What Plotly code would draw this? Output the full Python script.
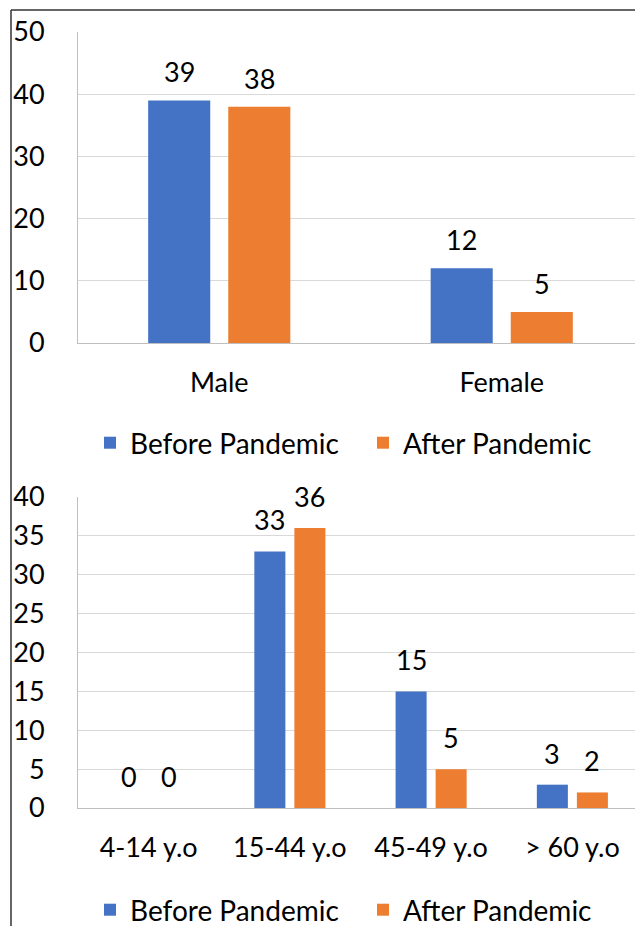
import plotly.graph_objects as go

# The page body has an 8px margin, so the figure is sized to fill the rest
OFF = 8
W, H = 643 - OFF, 926 - OFF

def px(x):
    return (x - OFF) / W

def py(y):
    return 1 - (y - OFF) / H

# ---- data ----
sex_categories = ["Male", "Female"]
sex_before = [39, 12]
sex_after = [38, 5]

age_categories = ["4-14 y.o", "15-44 y.o", "45-49 y.o", "> 60 y.o"]
age_before = [0, 33, 15, 3]
age_after = [0, 36, 5, 2]

series_names = ["Before Pandemic", "After Pandemic"]
colors = ["#4472C4", "#ED7D31"]

FONT = "Lato"
FS = 27
BARGAP = 0.433
GROUPGAP = 0.225

fig = go.Figure()

def add_group(cats, before, after, xa, ya, legend, yshift):
    for name, vals, col in zip(series_names, [before, after], colors):
        fig.add_trace(go.Bar(
            x=cats, y=vals, name=name, marker_color=col,
            marker_line_width=0, xaxis=xa, yaxis=ya, legend=legend,
            hoverinfo="skip"))
    slot = (1 - BARGAP) / 2
    for k, vals in enumerate([before, after]):
        off = (k - 0.5) * slot
        for i, v in enumerate(vals):
            fig.add_annotation(
                x=i + off, y=v, xref=xa, yref=ya, text=str(v),
                showarrow=False, yanchor="bottom", yshift=yshift,
                font=dict(family=FONT, size=FS, color="#000"))

add_group(sex_categories, sex_before, sex_after, "x", "y", "legend", 10)
add_group(age_categories, age_before, age_after, "x2", "y2", "legend2", 13)

xdom = [px(78), 1.0]
top_dom = [py(343), py(32)]
bot_dom = [py(808), py(497)]

axis_font = dict(family=FONT, size=FS, color="#000")
grid = "#d9d9d9"
line = "#bfbfbf"

def xaxis(dom, anchor):
    return dict(domain=dom, anchor=anchor, type="category",
                showline=True, linecolor=line, linewidth=1,
                showgrid=False, ticks="", tickfont=axis_font,
                ticklabelstandoff=16, fixedrange=True, automargin=False)

def yaxis(dom, anchor, rng, dt):
    return dict(domain=dom, anchor=anchor, range=rng, dtick=dt,
                showline=True, linecolor=line, linewidth=1,
                showgrid=True, gridcolor=grid, gridwidth=1,
                zeroline=False, ticks="", tickfont=axis_font,
                ticklabelstandoff=27, fixedrange=True, automargin=False)

legend_common = dict(orientation="h", xanchor="left", yanchor="middle",
                     font=dict(family=FONT, size=28, color="#000"),
                     bgcolor="rgba(0,0,0,0)", traceorder="normal",
                     entrywidth=228)

fig.update_layout(
    width=W, height=H, autosize=False,
    margin=dict(l=0, r=0, t=0, b=0, pad=0, autoexpand=False),
    paper_bgcolor="white", plot_bgcolor="white",
    barmode="group", bargap=BARGAP, bargroupgap=GROUPGAP,
    xaxis=xaxis(xdom, "y"),
    yaxis=yaxis(top_dom, "x", [0, 50], 10),
    xaxis2=xaxis(xdom, "y2"),
    yaxis2=yaxis(bot_dom, "x2", [0, 40], 5),
    legend=dict(x=px(90), y=py(443), **legend_common),
    legend2=dict(x=px(90), y=py(910), **legend_common),
    font=dict(family=FONT, size=FS, color="#000"),
    showlegend=True,
)

# frame lines (top and left border of the figure panel)
fig.add_shape(type="line", xref="paper", yref="paper",
              x0=px(11), x1=1, y0=py(10), y1=py(10),
              line=dict(color="#333333", width=1.5))
fig.add_shape(type="line", xref="paper", yref="paper",
              x0=px(11), x1=px(11), y0=0, y1=py(10),
              line=dict(color="#333333", width=1.5))

fig.write_html("out.html")
